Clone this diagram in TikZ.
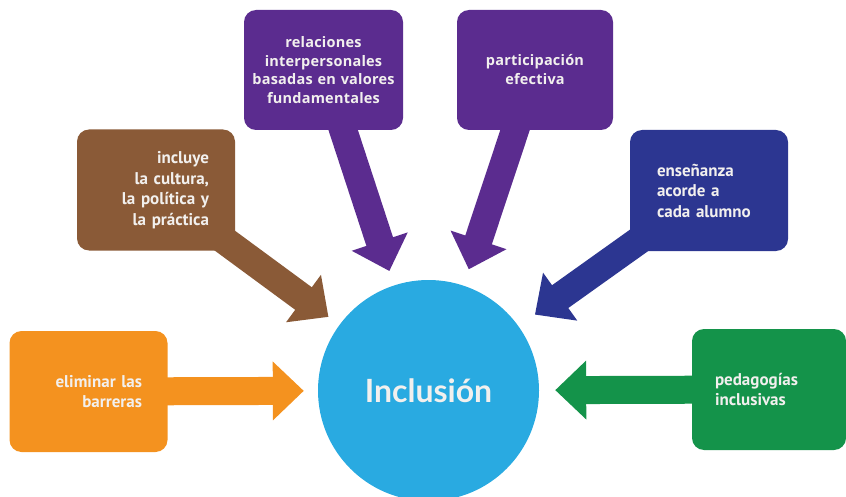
\documentclass[tikz,border=0pt]{standalone}
\usepackage{fontspec}
\setmainfont{PT Sans}
\newfontfamily\purplefont{Open Sans}[LetterSpace=1.5]
\newfontfamily\centerfont{Lato}
\usepackage{tikz}
\usetikzlibrary{arrows.meta}
\usetikzlibrary{backgrounds}
\definecolor{orangeC}{HTML}{F4921F}
\definecolor{brownC}{HTML}{8A5A37}
\definecolor{purpleC}{HTML}{5B2C8F}
\definecolor{navyC}{HTML}{2C3691}
\definecolor{greenC}{HTML}{14934A}
\definecolor{circC}{HTML}{29AAE1}
\definecolor{boxtext}{HTML}{F2F0EE}

\begin{document}
\begin{tikzpicture}[x=1pt,y=-1pt]
\tikzstyle{every node}=[font=\bfseries\fontsize{17}{20.5}\selectfont, text=boxtext]
\tikzstyle{box}=[rectangle, rounded corners=12pt, minimum width=158pt, minimum height=121pt, inner sep=0pt]
\tikzstyle{fat}=[line width=28pt, -{Triangle[length=31pt 0, width=57pt 0]}, shorten >=15pt]
\useasboundingbox (0,0) rectangle (846,497);
\node [circle, fill=circC, minimum size=221pt, inner sep=0pt, font=\centerfont\bfseries\fontsize{32}{38}\selectfont] (incl) at (428.5,390.5) {Inclusión};
\node [box, fill=orangeC, text width=107pt, align=right] (barreras) at (88.5,391.5) {eliminar las\\barreras};
\node [box, fill=brownC, text width=106pt, align=right] (cultura) at (156,190) {incluye\\la cultura,\\la política y\\la práctica};
\node [box, fill=purpleC, minimum width=159pt, minimum height=120pt, text width=150pt, align=center, font=\purplefont\bfseries\fontsize{14.5}{18.5}\selectfont] (relaciones) at (323.5,70) {relaciones\\interpersonales\\basadas en valores\\fundamentales};
\node [box, fill=purpleC, minimum width=156pt, minimum height=120pt, text width=150pt, align=center, font=\purplefont\bfseries\fontsize{14.5}{19}\selectfont] (participacion) at (535,70) {participación\\efectiva};
\node [box, fill=navyC, text width=104pt, align=left] (ensenanza) at (709,190.5) {enseñanza\\acorde a\\cada alumno};
\node [box, fill=greenC, minimum width=154pt, text width=108pt, align=left] (pedagogias) at (769,389.5) {pedagogías\\inclusivas};
% arrows into the circle
\begin{pgfonlayer}{background}
\draw [fat, orangeC, shorten >=14pt] (barreras.center) -- (incl);
\draw [fat, brownC, shorten >=13.5pt] (cultura.center) -- (incl);
\draw [fat, purpleC] (relaciones.center) -- (incl);
\draw [fat, purpleC, shorten >=17pt] (participacion.center) -- (incl);
\draw [fat, navyC, shorten >=20pt] (ensenanza.center) -- (incl);
\draw [fat, greenC, shorten >=16pt] (pedagogias.center) -- (incl);
\end{pgfonlayer}
\end{tikzpicture}
\end{document}
